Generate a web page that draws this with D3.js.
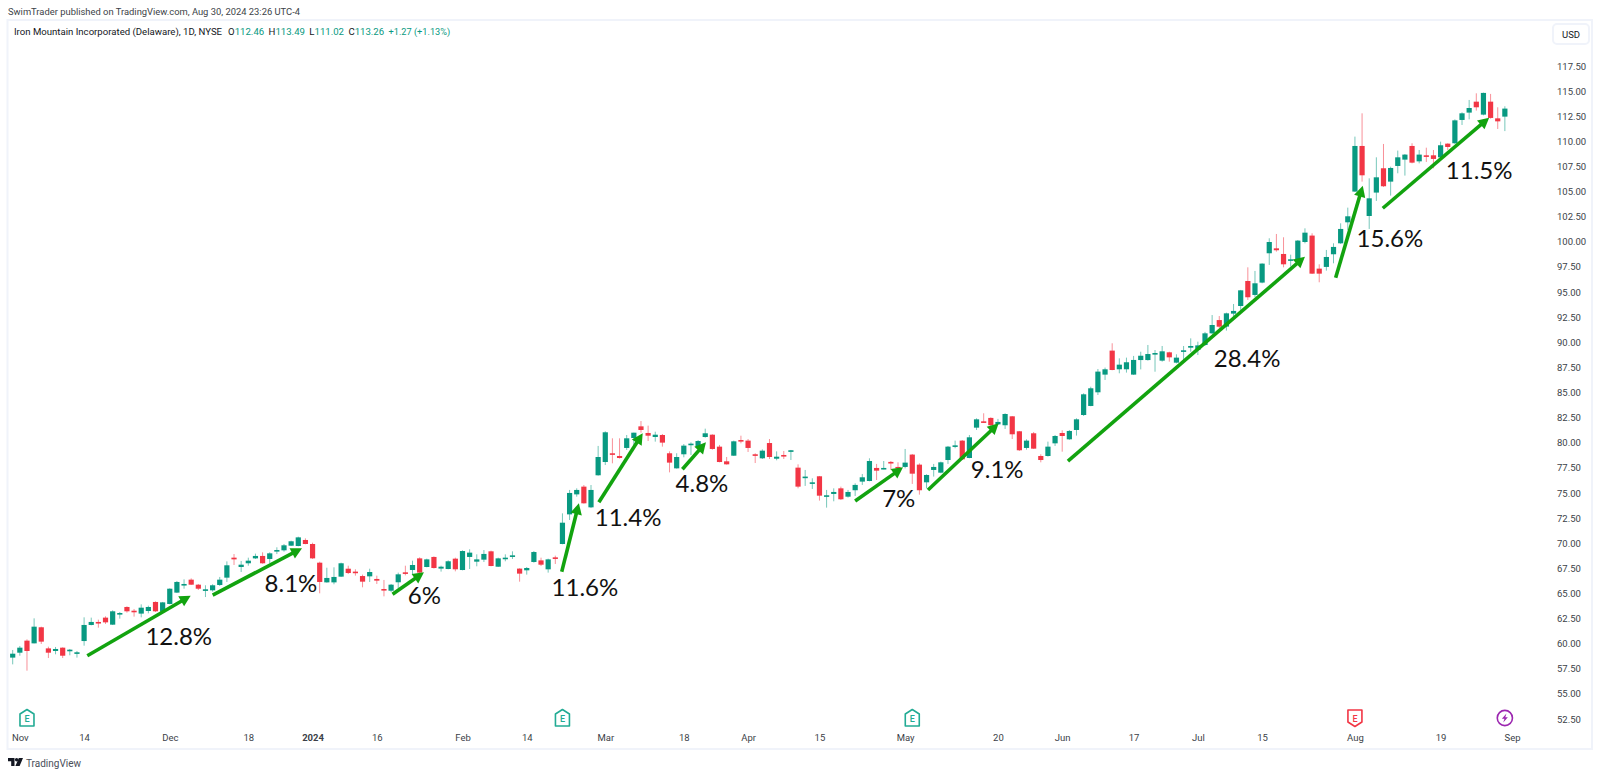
<!DOCTYPE html>
<html>
<head>
<meta charset="utf-8">
<title>IRM</title>
<script src="https://cdn.jsdelivr.net/npm/d3@7"></script>
<style>
    html, body { margin: 0; padding: 0; background: #fff; overflow: hidden; }
    text { font-family: Roboto, sans-serif; }
</style>
</head>
<body>
<div id="chart"></div>
<script>
// daily candles, Oct 31 2023 - Aug 30 2024
var opens = [
    58.61, 59.10, 60.30, 60.03, 61.63, 59.53, 59.27, 59.60, 59.34, 59.07,
    60.26, 61.86, 62.16, 62.59, 61.89, 62.99, 63.65, 63.28, 62.99, 63.25,
    64.15, 63.18, 63.95, 65.08, 65.87, 66.37, 65.87, 65.34, 65.31, 65.84,
    66.57, 68.56, 67.63, 68.00, 68.49, 68.73, 68.43, 69.19, 69.29, 69.75,
    69.72, 70.32, 69.92, 68.06, 66.10, 66.10, 66.67, 67.46, 67.17, 66.73,
    66.70, 66.44, 65.44, 65.27, 66.11, 67.10, 67.33, 68.49, 67.63, 68.63,
    67.47, 67.43, 68.46, 67.33, 68.63, 68.16, 68.36, 69.19, 67.66, 68.49,
    68.63, 67.47, 67.30, 68.13, 68.29, 67.40, 68.59, 69.92, 72.87, 74.86,
    75.63, 73.57, 76.76, 78.08, 78.95, 78.68, 79.48, 80.47, 81.63, 80.97,
    80.57, 80.77, 78.95, 77.45, 78.85, 79.78, 79.61, 80.57, 80.80, 79.61,
    78.15, 78.71, 80.27, 80.21, 78.85, 78.45, 79.97, 78.41, 78.78, 79.18,
    77.52, 76.56, 75.96, 76.66, 74.70, 74.90, 75.46, 74.63, 75.27, 76.13,
    76.19, 77.49, 77.39, 78.09, 77.59, 77.59, 78.82, 77.82, 76.06, 77.29,
    77.02, 78.28, 79.65, 80.21, 78.48, 81.50, 82.13, 82.47, 81.83, 81.74,
    82.63, 81.14, 79.48, 80.94, 78.68, 78.68, 79.94, 80.97, 80.34, 81.27,
    82.76, 83.66, 85.02, 86.78, 89.17, 87.31, 87.31, 86.78, 88.23, 88.23,
    88.83, 88.17, 89.00, 87.97, 89.10, 89.46, 89.23, 89.73, 90.89, 92.21,
    91.56, 92.85, 93.61, 96.10, 94.71, 95.94, 98.86, 99.35, 98.79, 98.13,
    98.26, 99.98, 100.62, 97.33, 97.50, 98.76, 99.85, 101.94, 105.00, 109.54,
    102.57, 104.90, 107.32, 105.99, 107.55, 108.18, 109.54, 108.01, 108.61, 108.61,
    108.41, 109.77, 109.81, 112.13, 112.86, 113.95, 112.66, 113.95, 112.29, 112.46
];
var closes = [
    59.00, 59.60, 59.27, 61.69, 60.20, 59.10, 59.47, 58.80, 59.40, 59.14,
    61.86, 62.16, 62.02, 62.12, 63.22, 63.05, 63.22, 63.18, 63.58, 63.65,
    63.22, 64.11, 65.47, 66.14, 65.94, 65.87, 65.47, 65.41, 65.81, 66.37,
    67.80, 68.39, 67.86, 68.26, 68.73, 68.00, 68.99, 69.32, 69.79, 70.19,
    70.58, 69.92, 68.49, 66.14, 66.54, 66.64, 68.00, 67.03, 67.07, 66.17,
    67.13, 66.27, 65.31, 65.87, 66.90, 67.00, 67.83, 67.07, 68.39, 67.53,
    67.66, 68.20, 67.40, 69.22, 69.06, 68.39, 68.93, 67.73, 68.49, 68.56,
    68.79, 66.97, 67.53, 69.12, 67.86, 68.39, 68.53, 72.04, 75.00, 75.30,
    73.97, 75.30, 78.58, 81.04, 78.85, 78.48, 80.44, 81.00, 81.27, 80.70,
    80.80, 80.01, 78.02, 78.58, 79.71, 79.91, 80.17, 80.94, 79.38, 78.08,
    77.85, 80.14, 80.14, 79.48, 78.71, 79.21, 78.58, 78.61, 78.72, 79.25,
    75.63, 76.63, 76.06, 74.73, 74.77, 75.10, 74.37, 75.10, 75.80, 76.56,
    78.18, 77.22, 77.49, 78.02, 77.49, 78.02, 76.92, 75.27, 76.79, 77.59,
    78.05, 79.61, 79.74, 78.35, 80.54, 82.33, 82.00, 81.74, 82.07, 82.86,
    80.84, 79.25, 80.21, 79.41, 78.28, 79.61, 80.67, 80.67, 81.17, 82.33,
    84.82, 85.42, 87.08, 87.31, 87.24, 87.77, 88.01, 88.24, 88.66, 88.83,
    88.93, 89.10, 88.50, 88.47, 89.20, 89.63, 89.69, 90.89, 91.72, 91.55,
    92.88, 93.12, 95.17, 94.48, 95.87, 97.83, 99.98, 99.16, 97.76, 98.26,
    100.12, 100.91, 96.83, 96.83, 98.49, 99.49, 101.28, 102.54, 109.54, 106.62,
    104.33, 106.42, 105.53, 107.35, 108.41, 108.68, 107.88, 108.68, 108.51, 108.25,
    109.61, 109.44, 112.09, 112.79, 113.32, 113.39, 114.82, 112.33, 111.99, 113.26
];
var highs = [
    59.37, 59.77, 60.43, 62.52, 61.69, 59.70, 59.67, 59.63, 59.47, 59.27,
    62.62, 62.59, 62.39, 62.72, 63.32, 63.15, 63.72, 63.45, 63.91, 63.78,
    64.21, 64.15, 65.51, 66.24, 66.40, 66.50, 65.94, 65.81, 65.91, 66.64,
    68.19, 68.92, 68.23, 68.56, 68.96, 69.09, 69.09, 69.59, 69.92, 70.25,
    70.65, 70.48, 70.05, 68.16, 67.56, 67.60, 68.06, 67.76, 67.40, 66.87,
    67.46, 66.77, 66.34, 65.94, 67.07, 67.76, 68.26, 68.59, 68.46, 68.69,
    67.76, 68.29, 68.56, 69.29, 69.39, 68.89, 69.32, 69.26, 68.56, 68.89,
    69.19, 67.50, 67.63, 69.22, 68.56, 68.46, 68.76, 72.97, 75.30, 75.46,
    75.79, 75.79, 79.68, 81.14, 80.44, 80.44, 80.77, 81.00, 82.16, 81.70,
    81.10, 80.87, 79.14, 78.95, 79.87, 80.04, 80.27, 81.40, 80.84, 79.78,
    78.58, 80.21, 80.70, 80.37, 78.95, 79.34, 80.37, 79.14, 79.18, 79.28,
    77.85, 77.29, 76.46, 76.69, 75.30, 75.46, 75.63, 75.30, 75.96, 76.89,
    78.45, 77.89, 78.18, 78.18, 78.05, 79.38, 78.88, 77.95, 76.86, 77.89,
    78.12, 79.68, 80.21, 80.27, 80.77, 82.43, 82.93, 82.53, 82.37, 82.93,
    82.66, 81.17, 80.34, 81.07, 78.85, 80.11, 80.77, 81.24, 81.27, 82.43,
    84.92, 85.58, 87.34, 87.48, 89.90, 88.40, 88.47, 88.64, 89.06, 89.73,
    89.23, 89.63, 89.06, 88.80, 89.63, 90.39, 90.06, 91.03, 92.71, 92.61,
    92.95, 93.81, 95.21, 97.46, 97.10, 97.86, 100.35, 100.78, 100.45, 98.72,
    100.18, 101.34, 100.85, 97.76, 99.19, 99.85, 101.84, 103.40, 110.47, 112.79,
    106.32, 108.41, 109.74, 107.48, 109.08, 108.74, 109.81, 109.14, 109.37, 109.14,
    109.97, 109.81, 112.19, 112.89, 114.12, 114.78, 114.85, 114.72, 113.39, 113.49
];
var lows = [
    57.94, 58.80, 57.31, 60.03, 59.97, 58.57, 58.94, 58.57, 58.84, 58.61,
    59.80, 61.82, 61.59, 61.96, 61.86, 62.49, 63.09, 62.69, 62.62, 63.02,
    63.15, 63.12, 63.91, 65.04, 65.47, 65.84, 65.34, 64.64, 65.18, 65.74,
    66.14, 67.83, 67.13, 67.76, 68.43, 67.96, 68.00, 68.92, 69.16, 69.72,
    69.69, 69.89, 68.43, 65.01, 66.07, 65.91, 66.64, 66.93, 66.77, 65.61,
    66.14, 65.94, 64.71, 65.14, 65.51, 66.80, 66.93, 66.84, 67.60, 67.47,
    67.17, 67.40, 67.20, 67.30, 67.43, 67.70, 68.13, 67.70, 67.63, 68.20,
    68.43, 66.17, 66.87, 68.06, 67.73, 67.07, 67.93, 69.89, 72.31, 74.63,
    73.94, 73.50, 76.72, 77.78, 77.95, 78.42, 79.28, 79.78, 81.00, 80.17,
    80.11, 79.61, 77.05, 77.42, 78.55, 78.78, 79.54, 80.50, 79.31, 78.05,
    77.82, 78.68, 79.94, 79.08, 77.98, 78.38, 78.38, 78.25, 78.38, 78.28,
    75.46, 75.70, 75.40, 74.24, 73.54, 74.17, 74.30, 74.54, 74.70, 75.80,
    76.16, 76.29, 77.36, 77.29, 76.96, 77.45, 75.90, 74.83, 75.46, 76.63,
    76.96, 77.89, 79.45, 78.28, 78.45, 81.27, 81.97, 81.10, 81.77, 81.37,
    80.37, 79.18, 79.31, 79.38, 78.05, 78.62, 79.68, 79.11, 80.28, 80.71,
    82.66, 83.63, 84.75, 86.25, 87.21, 86.91, 86.98, 86.75, 87.30, 88.17,
    87.07, 88.07, 88.07, 87.90, 88.23, 89.06, 88.73, 89.63, 90.82, 91.39,
    91.16, 92.55, 93.22, 94.21, 94.48, 95.87, 97.70, 99.02, 97.46, 97.53,
    98.19, 99.85, 96.80, 95.97, 97.13, 97.86, 99.79, 101.18, 104.96, 105.99,
    101.28, 104.07, 105.46, 104.60, 106.82, 106.59, 107.81, 107.81, 107.95, 107.32,
    108.31, 109.14, 109.74, 111.63, 112.19, 113.06, 112.59, 112.26, 111.23, 111.02
];

// price axis
var priceTicks = d3.range(26, -1, -1).map(function(k) { return 52.5 + k * 2.5; });

// time axis: candle number of each label
var timeLabels = ["Nov", "14", "Dec", "18", "2024", "16", "Feb", "14", "Mar", "18", "Apr", "15", "May", "20", "Jun", "17", "Jul", "15", "Aug", "19", "Sep"];
var timeIndex = [1, 10, 22, 33, 42, 51, 63, 72, 83, 94, 103, 113, 125, 138, 147, 157, 166, 175, 188, 200, 210];

// hand drawn swings: candle number and price at both ends
var swingLabels = ["12.8%", "8.1%", "6%", "11.6%", "11.4%", "4.8%", "7%", "9.1%", "28.4%", "15.6%", "11.5%"];
var swingFromIndex = [10.45, 28.01, 53.2, 76.9, 82.1, 93.8, 118.0, 128.2, 147.8, 185.3, 191.9];
var swingFromPrice = [58.80, 64.84, 64.91, 67.16, 74.07, 77.36, 74.20, 75.29, 78.18, 96.43, 103.34];
var swingToIndex = [24.93, 40.52, 57.6, 79.3, 88.24, 97.1, 124.7, 138.1, 181.0, 189.1, 206.8];
var swingToPrice = [64.77, 69.49, 67.10, 73.97, 80.94, 80.04, 77.55, 81.93, 98.52, 105.58, 112.35];
var swingTextIndex = [23.26, 38.98, 57.67, 80.15, 86.2, 96.54, 124.1, 137.9, 172.9, 192.9, 205.4];
var swingTextPrice = [59.87, 65.17, 63.95, 64.74, 71.71, 75.10, 73.60, 76.49, 87.54, 99.48, 106.25];

// events under the candles
var earningsIndex = [2, 77, 126, 188];
var earningsBeat = [true, true, true, false];
var dividendIndex = [209];

var GREEN = "#089981", RED = "#f23645", ARROW = "#12a30f", FRAME = "#f0f3fa", TEXT = "#131722";

var svg = d3.select("#chart").append("svg").attr("width", 1600).attr("height", 777);

var x = d3.scaleLinear().domain([0, 210]).range([12.7, 1512]);
var y = d3.scaleLinear().domain([52.5, 117.5]).range([719, 66]);

// 外框
function drawFrame() {
    svg.append("rect").attr("x", 7.5).attr("y", 20).attr("width", 1584.5).attr("height", 729)
        .attr("fill", "none").attr("stroke", FRAME).attr("stroke-width", 2);
    svg.append("rect").attr("x", 1553).attr("y", 24).attr("width", 36).attr("height", 20).attr("rx", 4)
        .attr("fill", "#fff").attr("stroke", FRAME).attr("stroke-width", 2);
    svg.append("text").attr("x", 1571).attr("y", 38).attr("text-anchor", "middle")
        .attr("font-size", 9.5).attr("fill", TEXT).text("USD");
}

// 標題與 OHLC
function drawHeader() {
    svg.append("text").attr("x", 8).attr("y", 15).attr("font-size", 9.4).attr("fill", "#3c3f48")
        .text("SwimTrader published on TradingView.com, Aug 30, 2024 23:26 UTC-4");

    var legend = svg.append("text").attr("x", 14).attr("y", 35).attr("font-size", 9.6).attr("fill", TEXT);
    legend.append("tspan").text("Iron Mountain Incorporated (Delaware), 1D, NYSE");
    var parts = [["O", "112.46"], ["H", "113.49"], ["L", "111.02"], ["C", "113.26"]];
    parts.forEach(function(p, i) {
        legend.append("tspan").attr("dx", i == 0 ? 6 : 4.4).text(p[0]);
        legend.append("tspan").attr("fill", GREEN).text(p[1]);
    });
    legend.append("tspan").attr("dx", 4.4).attr("font-size", 9.2).attr("fill", GREEN).text("+1.27 (+1.13%)");
}

function drawAxes() {
    var yAxis = d3.axisRight(y).tickValues(priceTicks).tickSize(0).tickPadding(0)
        .tickFormat(function(d) { return d.toFixed(2); });
    var gy = svg.append("g").attr("transform", "translate(1557,0)").call(yAxis);
    gy.select(".domain").remove();
    gy.selectAll("text").attr("font-size", 9.5).attr("font-family", "Roboto").attr("fill", "#3c3f48");

    var xAxis = d3.axisBottom(x).tickValues(timeIndex).tickSize(0).tickPadding(0)
        .tickFormat(function(d, i) { return timeLabels[i]; });
    var gx = svg.append("g").attr("transform", "translate(0,734)").call(xAxis);
    gx.select(".domain").remove();
    gx.selectAll("text").attr("font-size", 9.5).attr("font-family", "Roboto").attr("fill", "#3c3f48")
        .attr("font-weight", function(d, i) { return timeLabels[i] == "2024" ? 700 : 400; });
}

function drawCandles() {
    var candles = opens.map(function(o, i) {
        return { i: i, o: o, h: highs[i], l: lows[i], c: closes[i] };
    });
    var color = function(d) { return d.c >= d.o ? GREEN : RED; };

    var g = svg.append("g").selectAll("g").data(candles).enter().append("g");
    g.append("line")
        .attr("x1", function(d) { return x(d.i); })
        .attr("x2", function(d) { return x(d.i); })
        .attr("y1", function(d) { return y(d.h); })
        .attr("y2", function(d) { return y(d.l); })
        .attr("stroke", color).attr("stroke-width", 1).attr("stroke-opacity", 0.55);
    g.append("rect")
        .attr("x", function(d) { return x(d.i) - 2.6; })
        .attr("width", 5.2)
        .attr("y", function(d) { return y(Math.max(d.o, d.c)); })
        .attr("height", function(d) { return Math.max(1.6, Math.abs(y(d.o) - y(d.c))); })
        .attr("fill", color);
}

// 手繪箭頭
function drawSwings() {
    swingLabels.forEach(function(label, i) {
        var x1 = x(swingFromIndex[i]), y1 = y(swingFromPrice[i]);
        var x2 = x(swingToIndex[i]), y2 = y(swingToPrice[i]);
        var len = Math.sqrt((x2 - x1) * (x2 - x1) + (y2 - y1) * (y2 - y1));
        var ux = (x2 - x1) / len, uy = (y2 - y1) / len;
        var headLen = 11, headHalf = 5.8;
        svg.append("line")
            .attr("x1", x1).attr("y1", y1)
            .attr("x2", x2 - ux * (headLen - 1)).attr("y2", y2 - uy * (headLen - 1))
            .attr("stroke", ARROW).attr("stroke-width", 3.6);
        var bx = x2 - ux * headLen, by = y2 - uy * headLen;
        svg.append("polygon")
            .attr("points", [
                [x2, y2],
                [bx - uy * headHalf, by + ux * headHalf],
                [bx + uy * headHalf, by - ux * headHalf]
            ].join(" "))
            .attr("fill", ARROW);
        svg.append("text")
            .attr("x", x(swingTextIndex[i])).attr("y", y(swingTextPrice[i]))
            .attr("text-anchor", "middle")
            .style("font-family", "Lato, sans-serif").attr("font-size", 24).attr("fill", "#111")
            .text(label);
    });
}

// E 標記與股息標記
function drawEvents() {
    earningsIndex.forEach(function(idx, i) {
        var c = earningsBeat[i] ? "#22ab94" : RED;
        var cx = x(idx), cy = 718;
        var path = earningsBeat[i]
            ? [[0, -8.5], [7, -4], [7, 8], [-7, 8], [-7, -4]]
            : [[-7, -8], [7, -8], [7, 4], [0, 8.5], [-7, 4]];
        svg.append("polygon")
            .attr("points", path.map(function(p) { return [cx + p[0], cy + p[1]]; }).join(" "))
            .attr("fill", "#fff").attr("stroke", c).attr("stroke-width", 1.6).attr("stroke-linejoin", "round");
        svg.append("text").attr("x", cx).attr("y", cy + 3.5).attr("text-anchor", "middle")
            .attr("font-size", 9).attr("font-weight", 500).attr("fill", c).text("E");
    });
    dividendIndex.forEach(function(idx) {
        var cx = x(idx), cy = 718;
        svg.append("circle").attr("cx", cx).attr("cy", cy).attr("r", 7.6)
            .attr("fill", "#fff").attr("stroke", "#9c27b0").attr("stroke-width", 1.6);
        var bolt = [[1.6, -4.4], [-3, 0.8], [-0.4, 0.8], [-1.6, 4.4], [3, -0.8], [0.4, -0.8]];
        svg.append("polygon")
            .attr("points", bolt.map(function(p) { return [cx + p[0], cy + p[1]]; }).join(" "))
            .attr("fill", "#9c27b0");
    });
}

function drawLogo() {
    var logo = svg.append("g").attr("transform", "translate(8,758)").attr("fill", "#131722");
    logo.append("path").attr("d", "M0 0H6.5V8H3.2V3.2H0Z");
    logo.append("circle").attr("cx", 8.6).attr("cy", 1.7).attr("r", 1.7);
    logo.append("path").attr("d", "M10.8 0H15L11.6 8H7.4Z");
    svg.append("text").attr("x", 26).attr("y", 767).attr("font-size", 10).attr("fill", "#4a4e59").text("TradingView");
}

drawFrame();
drawHeader();
drawAxes();
drawCandles();
drawSwings();
drawEvents();
drawLogo();
</script>
</body>
</html>
